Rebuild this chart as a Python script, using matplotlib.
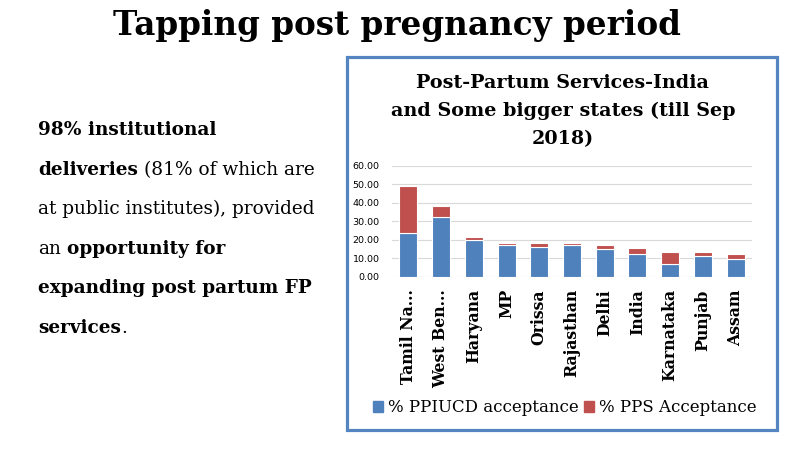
import matplotlib
matplotlib.use("Agg")
import matplotlib.pyplot as plt
from matplotlib.patches import Rectangle, Patch
import numpy as np

states = ["Tamil Na...", "West Ben...", "Haryana", "MP", "Orissa", "Rajasthan",
          "Delhi", "India", "Karnataka", "Punjab", "Assam"]
ppiucd = [23.4, 32.1, 19.8, 16.9, 15.9, 16.9, 14.8, 12.1, 7.0, 11.0, 9.7]
pps = [25.8, 6.1, 1.6, 1.3, 2.3, 1.3, 2.3, 3.4, 6.3, 2.3, 2.6]
yticks = [0, 10, 20, 30, 40, 50, 60]

BLUE = "#4f81bd"
RED = "#c0504d"
SERIF = "DejaVu Serif"
W, H = 800, 450

fig = plt.figure(figsize=(8, 4.5), dpi=100)


def px(x, y):
    # pixel coords (from top-left) -> figure fraction
    return x / W, 1 - y / H


def draw_line(x, y, runs, size):
    """draw a line made of bold / normal pieces, one after another"""
    renderer = fig.canvas.get_renderer()
    cur = x
    for txt, weight in runs:
        lead = txt.startswith(" ")
        txt = txt.strip()
        if lead:
            a = fig.text(0, 0, "x x", fontsize=size, family=SERIF, fontweight=weight)
            b = fig.text(0, 0, "xx", fontsize=size, family=SERIF, fontweight=weight)
            cur += a.get_window_extent(renderer).width - b.get_window_extent(renderer).width
            a.remove()
            b.remove()
        t = fig.text(*px(cur, y), txt, fontsize=size, family=SERIF,
                     fontweight=weight, va="center", ha="left")
        cur += t.get_window_extent(renderer).width


# main title
fig.text(*px(397, 25), "Tapping post pregnancy period", fontsize=23.5, family=SERIF,
         fontweight="bold", ha="center", va="center")

# left text block
lines = [
    [("98% institutional", "bold")],
    [("deliveries", "bold"), (" (81% of which are", "normal")],
    [("at public institutes), provided", "normal")],
    [("an", "normal"), (" opportunity for", "bold")],
    [("expanding post partum FP", "bold")],
    [("services", "bold"), (".", "normal")],
]
for i, runs in enumerate(lines):
    draw_line(38, 130 + i * 39.6, runs, 13.3)

# blue frame round the chart
x0, y0 = px(347, 430)
x1, y1 = px(777, 57)
fig.patches.append(Rectangle((x0, y0), x1 - x0, y1 - y0, transform=fig.transFigure,
                             fill=False, edgecolor="#5585c0", linewidth=2.3))

# chart title
fig.text(*px(563, 111), "Post-Partum Services-India\nand Some bigger states (till Sep\n2018)",
         fontsize=13.8, family=SERIF, fontweight="bold", ha="center", va="center",
         linespacing=1.7)

# chart
l, b = px(392, 276.7)
r, t = px(752, 165.7)
ax = fig.add_axes([l, b, r - l, t - b])
x = np.arange(len(states))
ax.bar(x, ppiucd, width=0.55, color=BLUE, edgecolor="white", linewidth=0.8,
       label="% PPIUCD acceptance", zorder=3)
ax.bar(x, pps, bottom=ppiucd, width=0.55, color=RED, edgecolor="white", linewidth=0.8,
       label="% PPS Acceptance", zorder=3)
ax.set_xlim(-0.5, len(states) - 0.5)
ax.set_ylim(0, 60)
ax.set_yticks(yticks)
ax.set_yticklabels([f"{v:.2f}" for v in yticks], fontsize=6.8, family="DejaVu Sans")
ax.yaxis.grid(True, color="#d9d9d9", linewidth=0.8, zorder=0)
ax.tick_params(axis="y", length=0, pad=9)
ax.tick_params(axis="x", length=0, pad=9)
ax.set_xticks(x)
ax.set_xticklabels(states, rotation=90, fontsize=11.3, family=SERIF, fontweight="bold")
for s in ax.spines.values():
    s.set_visible(False)

handles = [Patch(color=BLUE), Patch(color=RED)]
fig.legend(handles, ["% PPIUCD acceptance", "% PPS Acceptance"],
           loc="center", bbox_to_anchor=px(565, 408), ncol=2, frameon=False,
           prop={"family": SERIF, "size": 12}, handlelength=0.6, handleheight=0.6,
           handletextpad=0.3, columnspacing=0.3)

fig.savefig("out.png", dpi=100)
